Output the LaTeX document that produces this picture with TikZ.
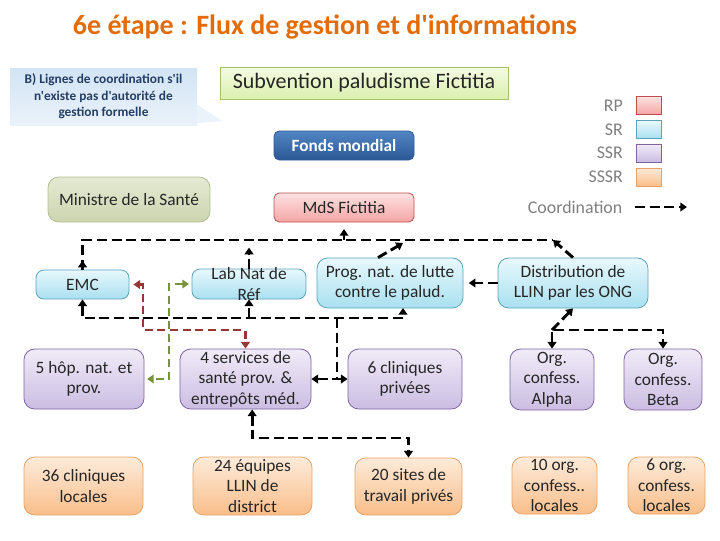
\documentclass[tikz,border=0pt]{standalone}
\usepackage{fontspec}
\setmainfont{Carlito}[Ligatures=TeXOff]
\usetikzlibrary{arrows.meta,positioning}

\definecolor{srtop}{HTML}{E8F8FC}
\definecolor{srbot}{HTML}{A9E0F0}
\definecolor{srline}{HTML}{5AA3BE}
\definecolor{ssrtop}{HTML}{F1EBF8}
\definecolor{ssrbot}{HTML}{CBBDE2}
\definecolor{ssrline}{HTML}{7E63A0}
\definecolor{sssrtop}{HTML}{FDEBDA}
\definecolor{sssrbot}{HTML}{F9BE8A}
\definecolor{sssrline}{HTML}{E9A266}
\definecolor{rptop}{HTML}{FDE2E2}
\definecolor{rpbot}{HTML}{F4A5A5}
\definecolor{rpline}{HTML}{B9504D}
\definecolor{mintop}{HTML}{E4EAD3}
\definecolor{minbot}{HTML}{CCD4AF}
\definecolor{minline}{HTML}{B3BD93}
\definecolor{fmtop}{HTML}{5285C4}
\definecolor{fmbot}{HTML}{2B5894}
\definecolor{subtop}{HTML}{F4FBE3}
\definecolor{subbot}{HTML}{DBF0AE}
\definecolor{subline}{HTML}{A4C06A}
\definecolor{calltop}{HTML}{D2E4F4}
\definecolor{callbot}{HTML}{EAF2FA}
\definecolor{calltext}{HTML}{243F66}
\definecolor{titleorange}{HTML}{E36C0A}
\definecolor{redlink}{HTML}{953735}
\definecolor{greenlink}{HTML}{77933C}

\begin{document}
\begin{tikzpicture}[x=0.75pt, y=-0.75pt,
    font=\fontsize{13}{15.4}\selectfont,
    wh/.style 2 args={minimum width=#1*0.75pt, minimum height=#2*0.75pt},
    box/.style={rectangle, rounded corners=6pt, draw, line width=0.6pt, align=center, inner sep=1pt, text=black!85},
    sr/.style={box, draw=srline, top color=srtop, bottom color=srbot},
    ssr/.style={box, draw=ssrline, top color=ssrtop, bottom color=ssrbot},
    sssr/.style={box, draw=sssrline, top color=sssrtop, bottom color=sssrbot},
    rp/.style={box, rounded corners=4pt, draw=rpline, top color=rptop, bottom color=rpbot},
    legendbox/.style={rectangle, draw, line width=0.6pt, wh={25}{18}},
    legendtext/.style={anchor=east, text=black!50, font=\fontsize{13.4}{16}\selectfont},
    coord/.style={black, line width=2.2pt, dash pattern=on 7.5pt off 3.5pt, >={Triangle[length=5pt,width=6.5pt]}},
    redcoord/.style={coord, redlink, line width=1.9pt, dash pattern=on 6pt off 3.5pt},
    greencoord/.style={coord, greenlink, line width=1.9pt, dash pattern=on 6pt off 3.5pt}
]
\useasboundingbox (0,0) rectangle (720,540);

% title and callout
\node[font=\fontsize{21}{25}\selectfont\bfseries, text=titleorange] (title) at (325,27) {6e étape : Flux de gestion et d'informations};
\fill[callbot] (190,100) -- (222,121) -- (190,124) -- cycle;
\node[rectangle, top color=calltop, bottom color=callbot, wh={187}{57}, align=center, inner sep=1pt,
      text=calltext, font=\fontsize{10}{12.4}\selectfont\bfseries] (callout) at (103.5,96.5)
      {B) Lignes de coordination s'il\\n'existe pas d'autorité de\\gestion formelle};

% top level
\node[box, rounded corners=0pt, draw=subline, top color=subtop, bottom color=subbot, wh={288}{32},
      font=\fontsize{16.5}{19}\selectfont] (subv) at (364,83) {Subvention paludisme Fictitia};
\node[box, rounded corners=4pt, draw=fmbot, top color=fmtop, bottom color=fmbot, wh={140}{29},
      text=white, font=\fontsize{12.9}{15}\selectfont\bfseries] (fonds) at (344,145.5) {Fonds mondial};
\node[rp, wh={140}{29}] (mds) at (344,207.5) {MdS Fictitia};
\node[box, rounded corners=8pt, draw=minline, top color=mintop, bottom color=minbot, wh={162}{45}] (ministre) at (129,199.5) {Ministre de la Santé};

% legend
\node[legendbox, draw=rpline, top color=rptop, bottom color=rpbot] (lrp) at (648.5,105.5) {};
\node[legendbox, draw=srline, top color=srtop, bottom color=srbot] (lsr) at (648.5,129.5) {};
\node[legendbox, draw=ssrline, top color=ssrtop, bottom color=ssrbot] (lssr) at (648.5,153) {};
\node[legendbox, draw=sssrline, top color=sssrtop, bottom color=sssrbot] (lsssr) at (648.5,177) {};
\node[legendtext, left=6pt of lrp] {RP};
\node[legendtext, left=6pt of lsr] {SR};
\node[legendtext, left=6pt of lssr] {SSR};
\node[legendtext, left=6pt of lsssr] {SSSR};
\node[legendtext] (lcoord) at (627,207) {Coordination};

% SR row
\node[sr, wh={93}{29}] (emc) at (82.5,284.5) {EMC};
\node[sr, wh={114}{30}, label={[align=center, text=black!85]center:Lab Nat de\\Réf}] (lab) at (249,284) {};
\node[sr, rounded corners=8pt, wh={146}{50}] (prog) at (390,283) {Prog. nat. de lutte\\contre le palud.};
\node[sr, rounded corners=8pt, wh={150}{50}] (distr) at (573,283) {Distribution de\\LLIN par les ONG};

% SSR row
\node[ssr, rounded corners=8pt, wh={120}{60}] (hop) at (84,379) {5 hôp. nat. et\\prov.};
\node[ssr, rounded corners=8pt, wh={131}{60}] (serv) at (245.5,379) {4 services de\\santé prov. \&\\entrepôts méd.};
\node[ssr, rounded corners=8pt, wh={114}{60}] (clin) at (405,379) {6 cliniques\\privées};
\node[ssr, rounded corners=8pt, wh={84}{61}] (alpha) at (552,379.5) {Org.\\confess.\\Alpha};
\node[ssr, rounded corners=8pt, wh={78}{61}] (beta) at (663,379.5) {Org.\\confess.\\Beta};

% SSSR row
\node[sssr, rounded corners=8pt, wh={119}{58}] (loc36) at (83.5,486) {36 cliniques\\locales};
\node[sssr, rounded corners=8pt, wh={119}{58}] (eq24) at (252.5,486) {24 équipes\\LLIN de\\district};
\node[sssr, rounded corners=8pt, wh={107}{57}] (sites) at (408.5,486.5) {20 sites de\\travail privés};
\node[sssr, rounded corners=8pt, wh={85}{57}] (org10) at (554.5,485.5) {10 org.\\confess..\\locales};
\node[sssr, rounded corners=8pt, wh={77}{57}] (org6) at (666.5,485.5) {6 org.\\confess.\\locales};

% bend points of the connectors
\coordinate (bustop) at (553,240);
\coordinate (buslow) at (337,318);
\coordinate (progin) at (403,308);
\coordinate (progout) at (403,243);
\coordinate (fork) at (552,330);
\coordinate (sbus) at (330,438);
\coordinate (redk) at (143,330);
\coordinate (greenk) at (169,379);

% coordination lines
\draw[coord] (emc.north) |- (bustop);
\draw[coord, ->] (emc.north) -- ++(0,-9);
\draw[coord, ->] (distr.north) -- (bustop);
\draw[coord, ->] (mds.south |- bustop) -- ([yshift=-5pt]mds.south);
\draw[coord, ->] (lab.north) -- ++(0,-21);
\draw[coord, ->] ([xshift=-9pt]prog.north) -- (progout);
\draw[coord, <->] (emc.south) |- (progin |- buslow) -- (progin);
\draw[coord, ->] (lab.south |- buslow) -- (lab.south);
\draw[coord] (buslow) -- (buslow |- serv.east);
\draw[coord, <->] (serv.east) -- (clin.west);
\draw[coord, ->, shorten >=4pt] (distr.west) -- (prog.east);
\draw[coord, ->] (fork) -- (distr.south);
\draw[coord, <->] (alpha.north) |- (fork) -| (beta.north);
\draw[coord, <->] ([xshift=5pt]serv.south) |- (sbus) -| (sites.north);
\draw[redcoord, <->, shorten <=3pt] (emc.east) -| (redk) -| (serv.north);
\draw[greencoord, <->, shorten <=2pt, shorten >=2pt] (lab.west) -| (greenk) -- (hop.east);
\draw[coord, ->] ([xshift=6pt]lcoord.east) -- ++(52,0);
\end{tikzpicture}
\end{document}
